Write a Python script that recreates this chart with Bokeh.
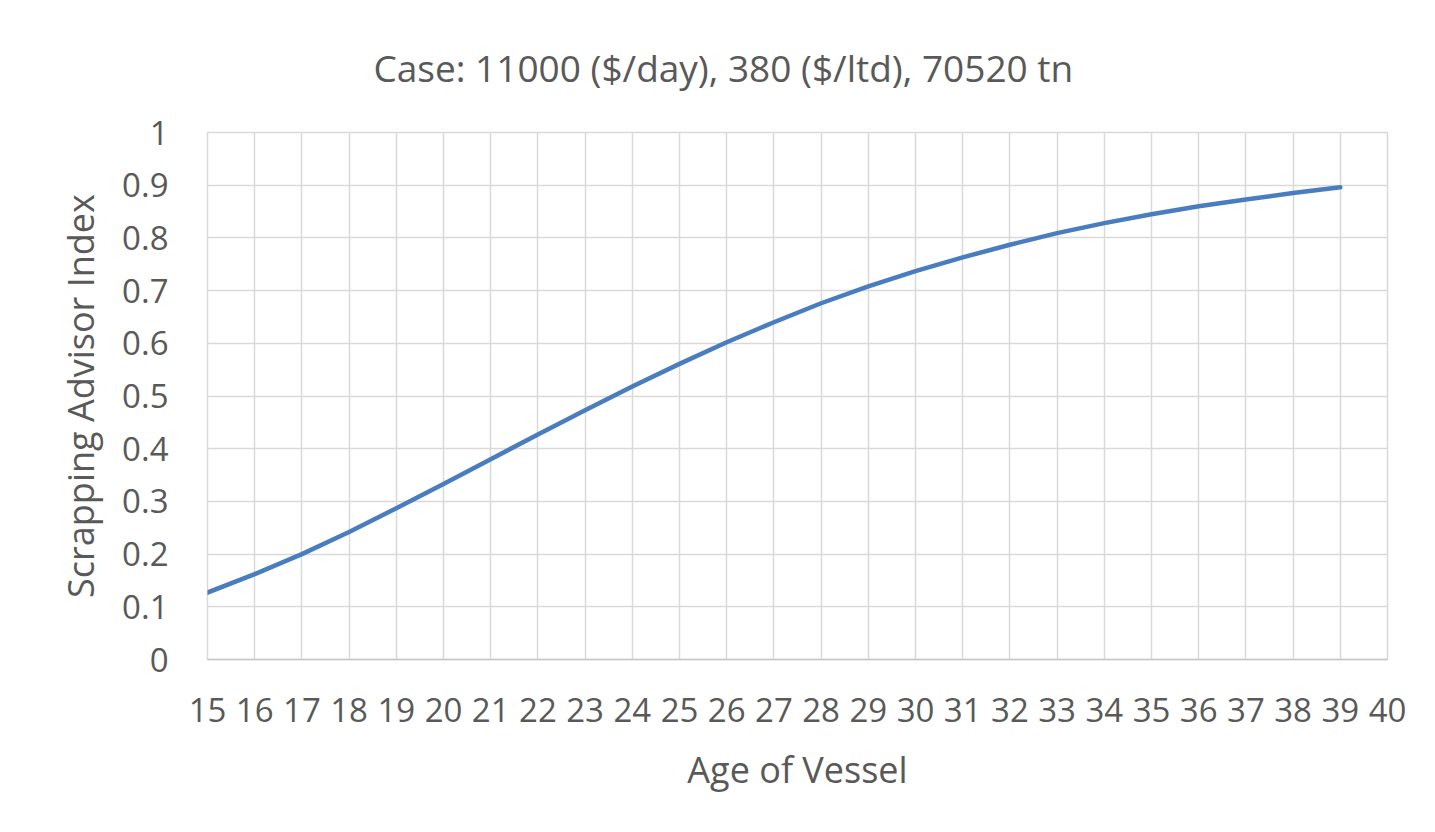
from bokeh.plotting import figure
from bokeh.models import FixedTicker, Range1d
from bokeh.embed import file_html
from bokeh.resources import INLINE

# ---- data ----
ages = [15, 16, 17, 18, 19, 20, 21, 22, 23, 24, 25, 26, 27, 28, 29, 30, 31, 32, 33, 34, 35, 36, 37, 38, 39]
index_values = [0.127, 0.162, 0.200, 0.242, 0.287, 0.333, 0.380, 0.427, 0.473, 0.518, 0.561, 0.602,
                0.640, 0.676, 0.708, 0.737, 0.763, 0.787, 0.809, 0.828, 0.845, 0.860, 0.873, 0.885, 0.896]
x_ticks = list(range(15, 41))
y_ticks = [0.0, 0.1, 0.2, 0.3, 0.4, 0.5, 0.6, 0.7, 0.8, 0.9, 1.0]
y_tick_labels = ["0", "0.1", "0.2", "0.3", "0.4", "0.5", "0.6", "0.7", "0.8", "0.9", "1"]
title_text = "Case: 11000 ($/day), 380 ($/ltd), 70520 tn"
x_title = "Age of Vessel"
y_title = "Scrapping Advisor Index"

FONT = "Open Sans"
TXT = "#595959"
GRID = "#d9d9d9"

p = figure(width=1427, height=824, output_backend="svg", toolbar_location=None,
           x_range=Range1d(15, 40), y_range=Range1d(0, 1),
           min_border_left=207, min_border_right=40, min_border_top=129, min_border_bottom=165,
           background_fill_color="white", border_fill_color="white")

p.title.text = title_text
p.title.align = "left"
p.title.offset = 166
p.title.text_font = FONT
p.title.text_font_size = "37px"
p.title.text_font_style = "normal"
p.title.text_color = TXT
p.title.standoff = 79

p.line(ages, index_values, line_color="#4a7dbf", line_width=4.5, line_cap="round", line_join="round")

p.xaxis.ticker = FixedTicker(ticks=x_ticks)
p.yaxis.ticker = FixedTicker(ticks=y_ticks)
p.yaxis.major_label_overrides = {t: l for t, l in zip(y_ticks, y_tick_labels)}

for ax in (p.xaxis[0], p.yaxis[0]):
    ax.major_label_text_font = FONT
    ax.major_label_text_font_size = "33px"
    ax.major_label_text_color = TXT
    ax.axis_label_text_font = FONT
    ax.axis_label_text_font_size = "36px"
    ax.axis_label_text_font_style = "normal"
    ax.axis_label_text_color = TXT
    ax.major_tick_line_color = None
    ax.minor_tick_line_color = None
    ax.major_tick_out = 0
    ax.major_tick_in = 0

p.xaxis.axis_label = x_title
p.yaxis.axis_label = y_title
p.xaxis.axis_line_color = "#c8c8c8"
p.xaxis.axis_line_width = 1.5
p.yaxis.axis_line_color = None
p.xaxis.major_label_standoff = 38
p.yaxis.major_label_standoff = 39
p.xaxis.axis_label_standoff = 20
p.yaxis.axis_label_standoff = 14

p.xgrid.ticker = FixedTicker(ticks=x_ticks)
p.ygrid.ticker = FixedTicker(ticks=y_ticks)
p.grid.grid_line_color = GRID
p.grid.grid_line_width = 1.5
p.outline_line_color = GRID
p.outline_line_width = 1.5

open("out.html", "w").write(file_html(p, INLINE))
